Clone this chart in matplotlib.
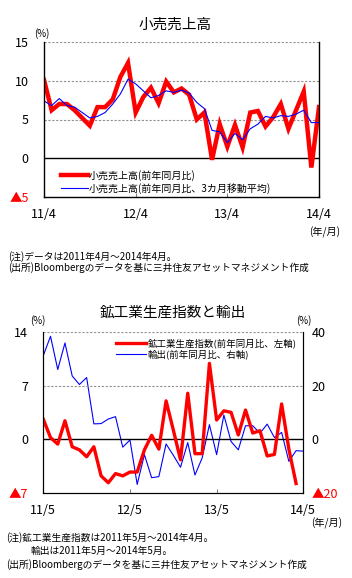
import numpy as np
import matplotlib
matplotlib.use("Agg")
import matplotlib.pyplot as plt

plt.rcParams['font.family'] = ['Noto Sans CJK JP', 'DejaVu Sans']

# ---- data: retail sales (2011/4 - 2014/4, monthly) ----
retail_yoy = [10.1, 6.2, 7.0, 7.0, 6.2, 5.2, 4.2, 6.6, 6.6, 7.6,
              10.5, 12.3, 5.9, 7.9, 9.1, 7.1, 9.9, 8.5, 9.0, 8.2,
              5.0, 5.9, -0.2, 4.4, 1.5, 4.3, 1.4, 5.9, 6.1, 4.1,
              5.3, 7.0, 3.8, 6.2, 8.6, -1.2, 6.6]
retail_ma3 = [7.4, 6.8, 7.7, 6.8, 6.6, 5.9, 5.2, 5.4, 5.9, 7.0,
              8.3, 10.2, 9.6, 8.7, 7.8, 8.1, 8.7, 8.5, 8.8, 8.4,
              7.2, 6.4, 3.6, 3.4, 2.0, 3.2, 2.4, 3.8, 4.4, 5.4,
              5.2, 5.5, 5.4, 5.7, 6.2, 4.6, 4.6]
top_xticklabels = ['11/4', '12/4', '13/4', '14/4']
top_yticklabels = ['▲5', '0', '5', '10', '15']

# ---- data: industrial production (2011/5 - 2014/4) and exports (2011/5 - 2014/5) ----
indprod_yoy = [2.6, 0.2, -0.65, 2.4, -1.0, -1.4, -2.3, -1.0, -4.8, -5.7,
               -4.5, -4.8, -4.3, -4.3, -1.4, 0.5, -1.3, 5.0, 1.2, -2.7,
               6.0, -1.9, -1.9, 9.9, 2.5, 3.7, 3.5, 0.55, 3.8, 0.8,
               1.1, -2.2, -2.0, 4.6, -1.3, -5.8]
exports_yoy = [31.2, 38.4, 26.0, 35.9, 23.6, 20.4, 23.0, 5.7, 5.8, 7.5,
               8.4, -3.0, -0.3, -16.9, -5.8, -14.4, -14.0, -1.8, -6.0, -10.5,
               -1.3, -13.4, -7.0, 5.4, -5.8, 9.0, -0.9, -4.0, 5.0, 5.0,
               2.2, 5.6, 0.6, 2.5, -8.3, -4.3, -4.5]
bot_xticklabels = ['11/5', '12/5', '13/5', '14/5']
bot_left_labels = ['▲7', '0', '7', '14']
bot_right_labels = ['▲20', '0', '20', '40']

W, H = 352, 578
fig = plt.figure(figsize=(W / 100, H / 100), dpi=100)


def box(x0, y0, x1, y1):
    # pixel box -> figure fraction
    return [x0 / W, 1 - y1 / H, (x1 - x0) / W, (y1 - y0) / H]


def ftext(x, y, s, **kw):
    fig.text(x / W, 1 - y / H, s, **kw)


RED, BLUE = '#ff0000', '#0000ff'
GRID = dict(color='#909090', linestyle=(0, (2, 1.5)), linewidth=0.8)
NOTE = 7.0

# ================= top chart =================
ax = fig.add_axes(box(44, 42, 319, 197))
x = np.arange(len(retail_yoy))
ax.plot(x, retail_yoy, color=RED, lw=3.2, solid_joinstyle='miter',
        label='小売売上高(前年同月比)')
ax.plot(x, retail_ma3, color=BLUE, lw=0.8,
        label='小売売上高(前年同月比、3カ月移動平均)')
ax.set_xlim(0, 36)
ax.set_ylim(-5, 15)
ax.set_yticks([-5, 0, 5, 10, 15])
ax.set_yticklabels(top_yticklabels, fontsize=9)
ax.get_yticklabels()[0].set_color(RED)
ax.set_xticks([0, 12, 24, 36])
ax.set_xticklabels(top_xticklabels, fontsize=9)
ax.tick_params(axis='y', length=0, pad=11)
ax.tick_params(axis='x', direction='in', length=3, color='#808080', pad=8)
for v in [5, 10, 15]:
    ax.axhline(v, zorder=0, **GRID)
ax.axhline(0, color='black', lw=1.0, zorder=1)
ax.spines['top'].set_visible(False)
for s in ['left', 'right', 'bottom']:
    ax.spines[s].set_linewidth(1.0)
ax.legend(loc='lower left', bbox_to_anchor=(0.04, -0.02), frameon=False,
          fontsize=7.2, handlelength=2.7, handletextpad=0.1,
          labelspacing=0.25, borderaxespad=0.2)

ftext(175, 25, '小売売上高', ha='center', va='center', fontsize=10.5)
ftext(42, 34, '(%)', ha='center', va='center', fontsize=7)
ftext(325, 232, '(年/月)', ha='center', va='center', fontsize=7.3)
ftext(8, 257, '(注)データは2011年4月～2014年4月。', va='center', fontsize=NOTE)
ftext(8, 268, '(出所)Bloombergのデータを基に三井住友アセットマネジメント作成',
      va='center', fontsize=NOTE)

# ================= bottom chart =================
axb = fig.add_axes(box(43.3, 332, 303.3, 492.7))
axr = axb.twinx()
axb.set_zorder(axr.get_zorder() + 1)
axb.patch.set_visible(False)

xr = np.arange(len(indprod_yoy))
xe = np.arange(len(exports_yoy))
lr, = axb.plot(xr, indprod_yoy, color=RED, lw=2.4,
               label='鉱工業生産指数(前年同月比、左軸)')
le, = axr.plot(xe, exports_yoy, color=BLUE, lw=0.8,
               label='輸出(前年同月比、右軸)')
axb.set_xlim(0, 36)
axb.set_ylim(-7, 14)
axr.set_ylim(-20, 40)
axb.set_yticks([-7, 0, 7, 14])
axb.set_yticklabels(bot_left_labels, fontsize=9)
axb.get_yticklabels()[0].set_color(RED)
axr.set_yticks([-20, 0, 20, 40])
axr.set_yticklabels(bot_right_labels, fontsize=9)
axr.get_yticklabels()[0].set_color(RED)
axb.set_xticks([0, 12, 24, 36])
axb.set_xticklabels(bot_xticklabels, fontsize=9)
axb.tick_params(axis='y', length=0, pad=11)
axr.tick_params(axis='y', length=0, pad=6)
axb.tick_params(axis='x', direction='in', length=3, color='#808080', pad=8)
for v in [7, 14]:
    axb.axhline(v, zorder=0, **GRID)
axb.axhline(0, color='black', lw=1.0, zorder=1)
for a in (axb, axr):
    a.spines['top'].set_visible(False)
axb.legend(handles=[lr, le], loc='upper left', bbox_to_anchor=(0.255, 1.0),
           frameon=False, fontsize=6.8, handlelength=3.2, handletextpad=0.15,
           labelspacing=0.15, borderaxespad=0.3)

ftext(173, 313, '鉱工業生産指数と輸出', ha='center', va='center', fontsize=10.5)
ftext(38, 321, '(%)', ha='center', va='center', fontsize=7)
ftext(304, 321, '(%)', ha='center', va='center', fontsize=7)
ftext(327, 523, '(年/月)', ha='center', va='center', fontsize=7.3)
ftext(6, 538, '(注)鉱工業生産指数は2011年5月～2014年4月。', va='center', fontsize=NOTE)
ftext(31, 551, '輸出は2011年5月～2014年5月。', va='center', fontsize=NOTE)
ftext(6, 565, '(出所)Bloombergのデータを基に三井住友アセットマネジメント作成',
      va='center', fontsize=NOTE)

fig.savefig('out.png', dpi=100)
